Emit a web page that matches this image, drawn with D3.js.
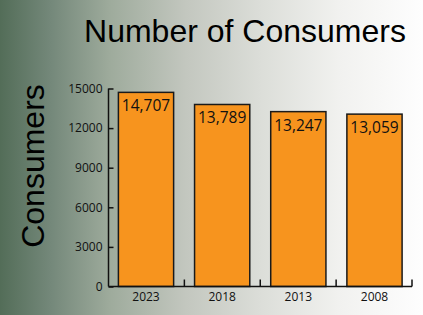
<!DOCTYPE html>
<html><head><meta charset="utf-8">
<script src="https://cdn.jsdelivr.net/npm/d3@7"></script>
<style>html,body{margin:0;padding:0;overflow:hidden;}svg{display:block;}</style>
</head><body>
<svg id="chart" width="423" height="315"></svg>
<script>
const categories = ["2023", "2018", "2013", "2008"];
const values = [14707, 13789, 13247, 13059];
const yTicks = [0, 3000, 6000, 9000, 12000, 15000];
const chartTitle = "Number of Consumers";
const yTitle = "Consumers";

const W = 423, H = 315;
const svg = d3.select("#chart");
const defs = svg.append("defs");
const grad = defs.append("linearGradient").attr("id", "bg").attr("x1", "0").attr("x2", "1").attr("y1", "0").attr("y2", "0");
[[0, "#536d58"], [0.12, "#74887a"], [0.26, "#9eab9c"], [0.44, "#c3c7bf"], [0.62, "#dcded9"], [0.8, "#f1f1ef"], [1, "#fefefe"]]
  .forEach(([o, c]) => grad.append("stop").attr("offset", o).attr("stop-color", c));
svg.append("rect").attr("width", W).attr("height", H).attr("fill", "url(#bg)");

const x0 = 108.5, x1 = 412;
const x = d3.scaleBand().domain(categories).range([x0, x1]).paddingInner(0.275).paddingOuter(0.13);
const y = d3.scaleLinear().domain([0, 15000]).range([286.5, 88.5]);

const g = svg.append("g");
g.selectAll("rect.bar").data(values).join("rect")
  .attr("class", "bar")
  .attr("x", (d, i) => x(categories[i]))
  .attr("width", x.bandwidth())
  .attr("y", d => y(d))
  .attr("height", d => y(0) - y(d))
  .attr("fill", "#f7941e")
  .attr("stroke", "#1a1a1a")
  .attr("stroke-width", 1.5);

g.selectAll("text.val").data(values).join("text")
  .attr("class", "val")
  .attr("x", (d, i) => x(categories[i]) + x.bandwidth() / 2)
  .attr("y", d => y(d) + 19)
  .attr("text-anchor", "middle")
  .attr("font-family", "'Open Sans', sans-serif")
  .attr("font-size", 15.5)
  .attr("fill", "#111")
  .text(d => d3.format(",")(d));

// y axis (ticks point inward)
const yAxis = d3.axisLeft(y).tickValues(yTicks).tickSize(-5).tickPadding(6).tickFormat(d3.format("d"));
const ya = svg.append("g").attr("transform", `translate(${x0},0)`).call(yAxis);
ya.select(".domain").attr("stroke", "#111").attr("stroke-width", 1.5).attr("d", `M0,${y(0)}V${y(15000)}`);
ya.selectAll(".tick line").attr("stroke", "#111").attr("stroke-width", 1.5);
ya.selectAll(".tick text").attr("font-family", "'Open Sans', sans-serif").attr("font-size", 12).attr("fill", "#111");

// x axis
const xAxis = d3.axisBottom(x).tickSize(0).tickPadding(6);
const xa = svg.append("g").attr("transform", `translate(0,${y(0)})`).call(xAxis);
xa.select(".domain").attr("stroke", "#111").attr("stroke-width", 1.5).attr("d", `M${x0},0H${x1}`);
xa.selectAll(".tick text").attr("font-family", "'Open Sans', sans-serif").attr("font-size", 12).attr("fill", "#111");
const stepW = (x1 - x0) / categories.length;
xa.selectAll("line.bt").data(categories).join("line").attr("class", "bt")
  .attr("x1", (d, i) => x0 + (i + 1) * stepW).attr("x2", (d, i) => x0 + (i + 1) * stepW)
  .attr("y1", 0).attr("y2", -7).attr("stroke", "#111").attr("stroke-width", 1.5);

// titles
svg.append("text").attr("x", 245).attr("y", 42).attr("text-anchor", "middle")
  .attr("font-family", "'Liberation Sans', Arial, sans-serif").attr("font-size", 32).attr("fill", "#000")
  .text(chartTitle);
svg.append("text").attr("transform", "translate(44,166) rotate(-90)").attr("text-anchor", "middle")
  .attr("font-family", "'Liberation Sans', Arial, sans-serif").attr("font-size", 32).attr("fill", "#000")
  .text(yTitle);
</script>
</body></html>
